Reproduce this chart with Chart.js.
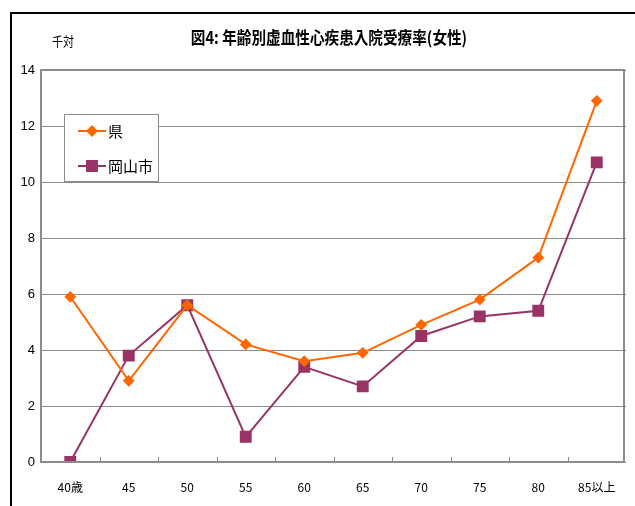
<!DOCTYPE html>
<html>
<head>
<meta charset="utf-8">
<script src="https://cdn.jsdelivr.net/npm/chart.js@4"></script>
<style>
  html, body { margin: 0; padding: 0; background: #fff; }
  #wrap { width: 635px; height: 506px; }
</style>
</head>
<body>
<div id="wrap"><canvas id="myLineChart" width="635" height="506"></canvas></div>
<script>
// Data
const ageLabels = ['40歳', '45', '50', '55', '60', '65', '70', '75', '80', '85以上'];
const kenValues = [5.9, 2.9, 5.6, 4.2, 3.6, 3.9, 4.9, 5.8, 7.3, 12.9];
const okayamaValues = [0.0, 3.8, 5.6, 0.9, 3.4, 2.7, 4.5, 5.2, 5.4, 10.7];
const yTicks = [0, 2, 4, 6, 8, 10, 12, 14];

const titleText = '図4: 年齢別虚血性心疾患入院受療率(女性)';
const unitText = '千対';
const jpFont = '"Noto Sans CJK JP", "DejaVu Sans", sans-serif';

// Frame, title, legend box, tick marks
const decorPlugin = {
    id: 'decor',
    beforeDraw(chart) {
        const ctx = chart.ctx;
        ctx.save();
        ctx.fillStyle = '#fff';
        ctx.fillRect(0, 0, chart.width, chart.height);
        ctx.strokeStyle = '#000';
        ctx.lineWidth = 2;
        ctx.beginPath();
        ctx.moveTo(11, chart.height + 5);
        ctx.lineTo(11, 13);
        ctx.lineTo(chart.width + 5, 13);
        ctx.stroke();

        // title (condensed)
        ctx.fillStyle = '#000';
        ctx.font = 'bold 17px ' + jpFont;
        ctx.textAlign = 'center';
        ctx.textBaseline = 'middle';
        ctx.translate(329, 38);
        ctx.scale(0.86, 1);
        ctx.fillText(titleText, 0, 0);
        ctx.restore();

        ctx.save();
        ctx.fillStyle = '#000';
        ctx.font = '13px ' + jpFont;
        ctx.textAlign = 'center';
        ctx.textBaseline = 'middle';
        ctx.translate(63, 41);
        ctx.scale(0.85, 1);
        ctx.fillText(unitText, 0, 0);
        ctx.restore();
    },
    afterDatasetsDraw(chart) {
        const ctx = chart.ctx;
        const a = chart.chartArea;
        ctx.save();
        // plot frame
        ctx.strokeStyle = '#8c8c8c';
        ctx.lineWidth = 2;
        ctx.strokeRect(a.left, a.top, a.right - a.left - 2, a.bottom - a.top);
        // inner tick marks on category boundaries
        const xs = chart.scales.x;
        ctx.lineWidth = 1;
        for (let i = 1; i < ageLabels.length; i++) {
            const px = Math.round((xs.getPixelForTick(i - 1) + xs.getPixelForTick(i)) / 2) + 0.5;
            ctx.beginPath();
            ctx.moveTo(px, a.bottom);
            ctx.lineTo(px, a.bottom - 5);
            ctx.stroke();
        }
        ctx.restore();
    },
    afterDraw(chart) {
        const ctx = chart.ctx;
        ctx.save();
        // legend box
        ctx.fillStyle = '#fff';
        ctx.fillRect(64, 114, 94, 67);
        ctx.strokeStyle = '#8c8c8c';
        ctx.lineWidth = 1;
        ctx.strokeRect(64.5, 114.5, 94, 67);
        const rows = [131, 166];
        chart.data.datasets.forEach((ds, i) => {
            const y = rows[i];
            ctx.strokeStyle = ds.borderColor;
            ctx.lineWidth = 2;
            ctx.beginPath();
            ctx.moveTo(78, y);
            ctx.lineTo(106, y);
            ctx.stroke();
            Chart.helpers.drawPoint(ctx, {
                pointStyle: ds.pointStyle,
                radius: ds.pointRadius,
                rotation: 0,
                borderWidth: 1
            }, 92, y);
            ctx.fillStyle = ds.pointBackgroundColor;
            ctx.fill();
            ctx.fillStyle = '#000';
            ctx.font = '15px ' + jpFont;
            ctx.textAlign = 'left';
            ctx.textBaseline = 'middle';
            ctx.fillText(ds.label, 108, y);
        });
        ctx.restore();
    }
};

const ctxLine = document.getElementById('myLineChart').getContext('2d');
const myLineChart = new Chart(ctxLine, {
    type: 'line',
    data: {
        labels: ageLabels,
        datasets: [
            {
                label: '県',
                data: kenValues,
                borderColor: '#ff6600',
                backgroundColor: '#ff6600',
                pointBackgroundColor: '#ff6600',
                pointBorderColor: '#ff6600',
                pointStyle: 'rectRot',
                pointRadius: 4.5,
                borderWidth: 2,
                tension: 0
            },
            {
                label: '岡山市',
                data: okayamaValues,
                borderColor: '#993366',
                backgroundColor: '#993366',
                pointBackgroundColor: '#993366',
                pointBorderColor: '#993366',
                pointStyle: 'rect',
                pointRadius: 7,
                borderWidth: 2,
                tension: 0
            }
        ]
    },
    options: {
        responsive: false,
        animation: false,
        events: [],
        layout: { padding: { top: 70, right: 5, left: 0, bottom: 0 } },
        plugins: {
            legend: { display: false },
            title: { display: false },
            tooltip: { enabled: false }
        },
        scales: {
            x: {
                offset: true,
                grid: { display: false },
                border: { display: false },
                ticks: {
                    color: '#000',
                    font: { family: jpFont, size: 12 },
                    padding: 10,
                    maxRotation: 0,
                    autoSkip: false
                },
                afterFit(scale) { scale.height = 44; }
            },
            y: {
                min: 0,
                max: 14,
                afterBuildTicks(scale) {
                    scale.ticks = yTicks.map(v => ({ value: v }));
                },
                grid: { color: '#8c8c8c', lineWidth: 1, drawTicks: false },
                border: { display: false },
                ticks: {
                    color: '#000',
                    font: { family: '"Liberation Sans", sans-serif', size: 13 },
                    padding: 6
                },
                afterFit(scale) { scale.width = 41; }
            }
        }
    },
    plugins: [decorPlugin]
});
</script>
</body>
</html>
